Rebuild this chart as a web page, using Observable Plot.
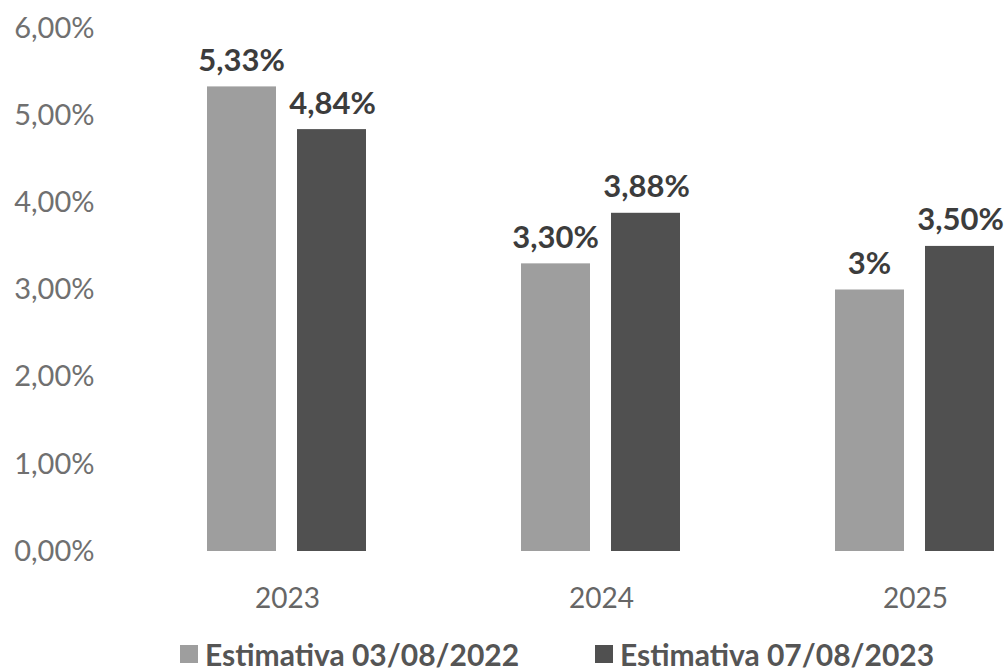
<!DOCTYPE html>
<html>
<head>
<meta charset="utf-8">
<script src="https://cdn.jsdelivr.net/npm/d3@7"></script>
<script src="https://cdn.jsdelivr.net/npm/@observablehq/plot@0.6"></script>
<style>
  html, body { margin: 0; padding: 0; background: #ffffff; }
  #wrap { position: relative; width: 1006px; height: 671px; font-family: Lato, "Open Sans", sans-serif; }
  .leg { position: absolute; top: 636px; font-size: 30px; font-weight: bold; color: #555; display: flex; align-items: center; white-space: nowrap; }
  .sw { width: 18px; height: 18px; margin-right: 7px; display: inline-block; }
</style>
</head>
<body>
<div id="wrap"></div>
<script>
const years = ["2023", "2024", "2025"];
const seriesNames = ["Estimativa 03/08/2022", "Estimativa 07/08/2023"];
const values2022 = [5.33, 3.30, 3.00];
const values2023 = [4.84, 3.88, 3.50];
const valueLabels2022 = ["5,33%", "3,30%", "3%"];
const valueLabels2023 = ["4,84%", "3,88%", "3,50%"];
const yTicks = [0, 1, 2, 3, 4, 5, 6];
const colors = ["#9e9e9e", "#505050"];

const rows2022 = years.map((y, i) => ({year: y, value: values2022[i], label: valueLabels2022[i]}));
const rows2023 = years.map((y, i) => ({year: y, value: values2023[i], label: valueLabels2023[i]}));

const fmt = d => d.toFixed(2).replace(".", ",") + "%";

const chart = Plot.plot({
  width: 1006,
  height: 630,
  marginLeft: 110,
  marginRight: 0,
  marginTop: 28,
  marginBottom: 79,
  style: {fontFamily: "Lato, 'Open Sans', sans-serif", fontSize: "28px", background: "transparent"},
  x: {domain: years, range: [130, 1072], padding: 0},
  y: {domain: [0, 6], ticks: yTicks},
  marks: [
    Plot.axisY({ticks: yTicks, tickSize: 0, tickPadding: 16, tickFormat: fmt, fill: "#707070", fontSize: 29, label: null}),
    Plot.axisX({tickSize: 0, tickPadding: 37, fill: "#666", fontSize: 28, label: null}),
    Plot.barY(rows2022, {x: "year", y: "value", fill: colors[0], insetLeft: 77, insetRight: 168}),
    Plot.barY(rows2023, {x: "year", y: "value", fill: colors[1], insetLeft: 167, insetRight: 78}),
    Plot.text(rows2022, {x: "year", y: "value", text: "label", dx: -46, dy: -16, lineAnchor: "bottom", fontWeight: "bold", fontSize: 31, fill: "#3c3c3c"}),
    Plot.text(rows2023, {x: "year", y: "value", text: "label", dx: 45, dy: -16, lineAnchor: "bottom", fontWeight: "bold", fontSize: 31, fill: "#3c3c3c"})
  ]
});

const wrap = document.getElementById("wrap");
wrap.appendChild(chart);
const legLeft = [180, 595];
seriesNames.forEach((name, i) => {
  const d = document.createElement("div");
  d.className = "leg";
  d.style.left = legLeft[i] + "px";
  const s = document.createElement("span");
  s.className = "sw";
  s.style.background = colors[i];
  d.appendChild(s);
  d.appendChild(document.createTextNode(name));
  wrap.appendChild(d);
});
</script>
</body>
</html>
